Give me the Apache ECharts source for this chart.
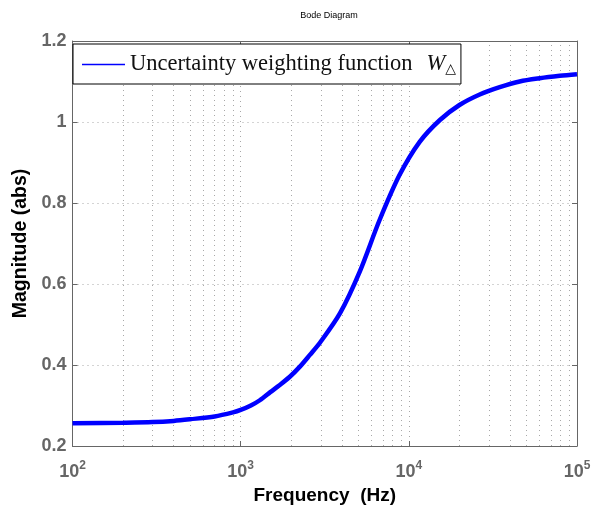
<!DOCTYPE html>
<html>
<head>
<meta charset="utf-8">
<script src="https://cdn.jsdelivr.net/npm/echarts@6/dist/echarts.min.js"></script>
<style>
  html, body { margin: 0; padding: 0; background: #fff; }
  #chart { width: 591px; height: 505px; }
</style>
</head>
<body>
<div id="chart"></div>
<script>
// 频率 (Hz) 与幅值
const freqs = [100, 200, 300, 400, 500, 700, 900, 1000, 1150, 1300, 1500, 1700, 1960, 2250, 2580, 2960, 3900, 5100,
  6700, 8800, 11600, 15300, 20000, 26400, 34700, 45600, 60000, 79000, 100000];
const magnitude = [0.256, 0.2575, 0.259, 0.262, 0.266, 0.273, 0.283, 0.289, 0.300, 0.313, 0.333, 0.350, 0.371, 0.396, 0.425, 0.455, 0.528, 0.630,
  0.758, 0.869, 0.951, 1.005, 1.042, 1.068, 1.086, 1.100, 1.108, 1.114, 1.118];

// 对数轴的次网格线位置
const minorFreqs = [200, 300, 400, 500, 600, 700, 800, 900,
  2000, 3000, 4000, 5000, 6000, 7000, 8000, 9000,
  20000, 30000, 40000, 50000, 60000, 70000, 80000, 90000];

const seriesName = 'Uncertainty weighting function';
const axisGrey = '#666666';
const gridDot = { color: '#a8a8a8', width: 1, type: [1, 4] };

const chart = echarts.init(document.getElementById('chart'));

chart.setOption({
  animation: false,
  title: {
    text: 'Bode Diagram',
    left: 324, textAlign: 'center', top: 6,
    textStyle: { fontSize: 9, fontWeight: 'normal', color: '#000', fontFamily: 'Liberation Sans' }
  },
  grid: { left: 72.5, right: 14, top: 41, bottom: 59, outerBoundsMode: 'none', containLabel: false },
  legend: {
    left: 73, top: 44,
    padding: [9, 5, 8, 9],
    borderColor: '#000', borderWidth: 1, borderRadius: 0,
    backgroundColor: '#fff',
    icon: 'rect',
    itemWidth: 43, itemHeight: 1.3,
    itemStyle: { color: '#0000ff' },
    formatter: name => name + '{w|W}{d|△}',
    textStyle: {
      fontFamily: 'Liberation Serif', fontSize: 22.5, color: '#111',
      rich: {
        w: { fontFamily: 'Liberation Serif', fontStyle: 'italic', fontSize: 22.5, color: '#111', padding: [0, 0, 0, 14] },
        d: { fontFamily: 'DejaVu Sans', fontSize: 14, color: '#111', padding: [9, 0, 0, 0] }
      }
    },
    data: [seriesName]
  },
  xAxis: [{
    type: 'log', logBase: 10, min: 100, max: 100000,
    position: 'bottom',
    axisLine: { lineStyle: { color: axisGrey, width: 1 } },
    axisTick: { inside: true, length: 5, lineStyle: { color: axisGrey } },
    splitLine: { show: true, lineStyle: gridDot },
    axisLabel: {
      margin: 14,
      formatter: v => '{b|10}{s|' + Math.round(Math.log10(v)) + '}',
      rich: {
        b: { fontFamily: 'Liberation Sans', fontWeight: 'bold', fontSize: 18, color: axisGrey },
        s: { fontFamily: 'Liberation Sans', fontWeight: 'bold', fontSize: 12, color: axisGrey, padding: [0, 0, 12, 0] }
      }
    },
    name: 'Frequency  (Hz)',
    nameLocation: 'middle', nameGap: 37,
    nameTextStyle: { fontFamily: 'Liberation Sans', fontWeight: 'bold', fontSize: 19, color: '#000' }
  }, {
    type: 'log', logBase: 10, min: 100, max: 100000,
    position: 'top',
    axisLine: { lineStyle: { color: axisGrey, width: 1 } },
    axisTick: { inside: true, length: 5, lineStyle: { color: axisGrey } },
    axisLabel: { show: false },
    splitLine: { show: false }
  }],
  yAxis: [{
    type: 'value', min: 0.2, max: 1.2, interval: 0.2,
    axisLine: { show: true, lineStyle: { color: axisGrey, width: 1 } },
    axisTick: { show: true, inside: true, length: 5, lineStyle: { color: axisGrey } },
    splitLine: { show: true, lineStyle: gridDot },
    axisLabel: {
      margin: 6,
      formatter: v => String(+v.toFixed(1)),
      fontFamily: 'Liberation Sans', fontWeight: 'bold', fontSize: 18, color: axisGrey
    },
    name: 'Magnitude (abs)',
    nameLocation: 'middle', nameGap: 40,
    nameTextStyle: { fontFamily: 'Liberation Sans', fontWeight: 'bold', fontSize: 19.5, color: '#000' }
  }, {
    type: 'value', min: 0.2, max: 1.2, interval: 0.2,
    position: 'right',
    axisLine: { show: true, lineStyle: { color: axisGrey, width: 1 } },
    axisTick: { show: true, inside: true, length: 5, lineStyle: { color: axisGrey } },
    axisLabel: { show: false },
    splitLine: { show: false }
  }],
  series: [{
    name: seriesName,
    type: 'line',
    xAxisIndex: 0, yAxisIndex: 0,
    data: freqs.map((f, i) => [f, magnitude[i]]),
    smooth: 0.3,
    symbol: 'none',
    lineStyle: { color: '#0000ff', width: 4.5 },
    itemStyle: { color: '#0000ff' },
    z: 5,
    markLine: {
      silent: true,
      symbol: ['none', 'none'],
      label: { show: false },
      lineStyle: gridDot,
      emphasis: { disabled: true },
      z: 1,
      data: minorFreqs.map(f => ({ xAxis: f }))
    }
  }]
});
</script>
</body>
</html>
